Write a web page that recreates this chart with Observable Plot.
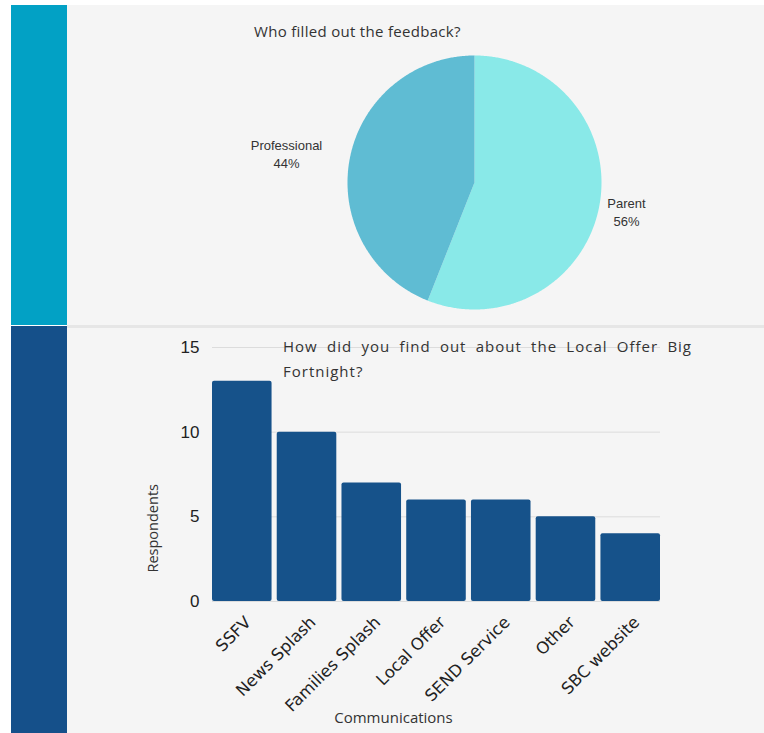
<!DOCTYPE html>
<html>
<head>
<meta charset="utf-8">
<script src="https://cdn.jsdelivr.net/npm/d3@7"></script>
<script src="https://cdn.jsdelivr.net/npm/@observablehq/plot@0.6"></script>
<style>
  html, body { margin: 0; padding: 0; background: #ffffff; }
  #page { position: relative; width: 764px; height: 733px; overflow: hidden; }
  .abs { position: absolute; }
  #title1 { font-family: "Open Sans", sans-serif; font-size: 15px; color: #333; white-space: nowrap; letter-spacing: 0.3px; }
  #title2 { font-family: "Open Sans", sans-serif; font-size: 15px; color: #333; text-align: justify; line-height: 25px; letter-spacing: 1px; }
</style>
</head>
<body>
<div id="page">
  <div class="abs" style="left:11px;top:5px;width:56px;height:320px;background:#02a1c5"></div>
  <div class="abs" style="left:11px;top:326px;width:56px;height:407px;background:#15508a"></div>
  <div class="abs" id="panel1" style="left:67px;top:5px;width:697px;height:320px;background:#f5f5f5"></div>
  <div class="abs" style="left:67px;top:325px;width:697px;height:3px;background:#e6e6e6"></div>
  <div class="abs" id="panel2" style="left:67px;top:328px;width:697px;height:405px;background:#f5f5f5"></div>
  <div class="abs" id="title1" style="left:254px;top:21px">Who filled out the feedback?</div>
  <div class="abs" id="title2" style="left:283px;top:334px;width:409px">How did you find out about the Local Offer Big Fortnight?</div>
</div>
<script>
// ---- Pie data ----
const pieLabels = ["Parent", "Professional"];
const pieValues = [56, 44];
const pieColors = ["#89e9e8", "#5fbcd3"];

// ---- Bar data ----
const commCategories = ["SSFV", "News Splash", "Families Splash", "Local Offer", "SEND Service", "Other", "SBC website"];
const commValues = [13, 10, 7, 6, 6, 5, 4];
const yTicks = [0, 5, 10, 15];
const barColor = "#16528a";

// Build pie slice outlines (angles clockwise from 12 o'clock)
const total = d3.sum(pieValues);
const slicePts = [];
const sliceLabels = [];
let a0 = 0;
pieValues.forEach((v, i) => {
  const a1 = a0 + (v / total) * 2 * Math.PI;
  slicePts.push({x: 0, y: 0, k: pieLabels[i]});
  const n = Math.max(2, Math.ceil((a1 - a0) / (Math.PI / 360)));
  for (let j = 0; j <= n; j++) {
    const a = a0 + (a1 - a0) * j / n;
    slicePts.push({x: Math.sin(a), y: Math.cos(a), k: pieLabels[i]});
  }
  slicePts.push({x: 0, y: 0, k: pieLabels[i]});
  const mid = (a0 + a1) / 2;
  sliceLabels.push({
    x: 0.93 * Math.sin(mid),
    y: 1.22 * Math.cos(mid),
    side: Math.sin(mid) >= 0 ? 1 : -1,
    len: pieLabels[i].length,
    text: `${pieLabels[i]}\n${Math.round(v / total * 100)}%`
  });
  a0 = a1;
});

const pie = Plot.plot({
  width: 697,
  height: 320,
  margin: 0,
  style: {background: "transparent"},
  x: {domain: [-1, 1], range: [280, 534], axis: null},
  y: {domain: [-1, 1], range: [304, 50], axis: null},
  color: {domain: pieLabels, range: pieColors},
  marks: [
    Plot.line(slicePts, {x: "x", y: "y", z: "k", fill: "k", stroke: "none", curve: "linear"}),
    ...sliceLabels.map(d => Plot.text([d], {
      x: "x", y: "y", text: "text",
      dx: d.side * 6 * d.len,
      fill: "#333", fontSize: 13, fontFamily: "Liberation Sans, Arial, sans-serif",
      lineHeight: 1.38
    }))
  ]
});
document.getElementById("panel1").appendChild(pie);

const barData = commCategories.map((c, i) => ({cat: c, value: commValues[i]}));

const bars = Plot.plot({
  width: 697,
  height: 405,
  marginLeft: 145,
  marginRight: 104,
  marginTop: 19,
  marginBottom: 132,
  style: {background: "transparent", color: "#222"},
  x: {domain: commCategories, paddingInner: 0.08, paddingOuter: 0, round: false, axis: null},
  y: {domain: [0, 15], axis: null},
  marks: [
    Plot.gridY(yTicks, {stroke: "#dcdcdc", strokeOpacity: 1}),
    Plot.barY(barData, {x: "cat", y: "value", fill: barColor, rx: 2}),
    Plot.axisY(yTicks, {tickSize: 0, tickPadding: 13, fontSize: 17, fontFamily: "Liberation Sans, Arial, sans-serif", label: null}),
    Plot.axisX({tickRotate: -45, tickSize: 0, tickPadding: 18, dx: 6, fontSize: 16.5, fontFamily: "DejaVu Sans, sans-serif", label: null}),
    Plot.text(["Respondents"], {frameAnchor: "left", rotate: -90, dx: -59, dy: 98, fontSize: 14.5, fontFamily: "Open Sans, sans-serif", fill: "#333"}),
    Plot.text(["Communications"], {frameAnchor: "bottom", dx: -43, dy: 121, fontSize: 15, fontFamily: "Open Sans, sans-serif", fill: "#333"})
  ]
});
document.getElementById("panel2").appendChild(bars);
</script>
</body>
</html>
